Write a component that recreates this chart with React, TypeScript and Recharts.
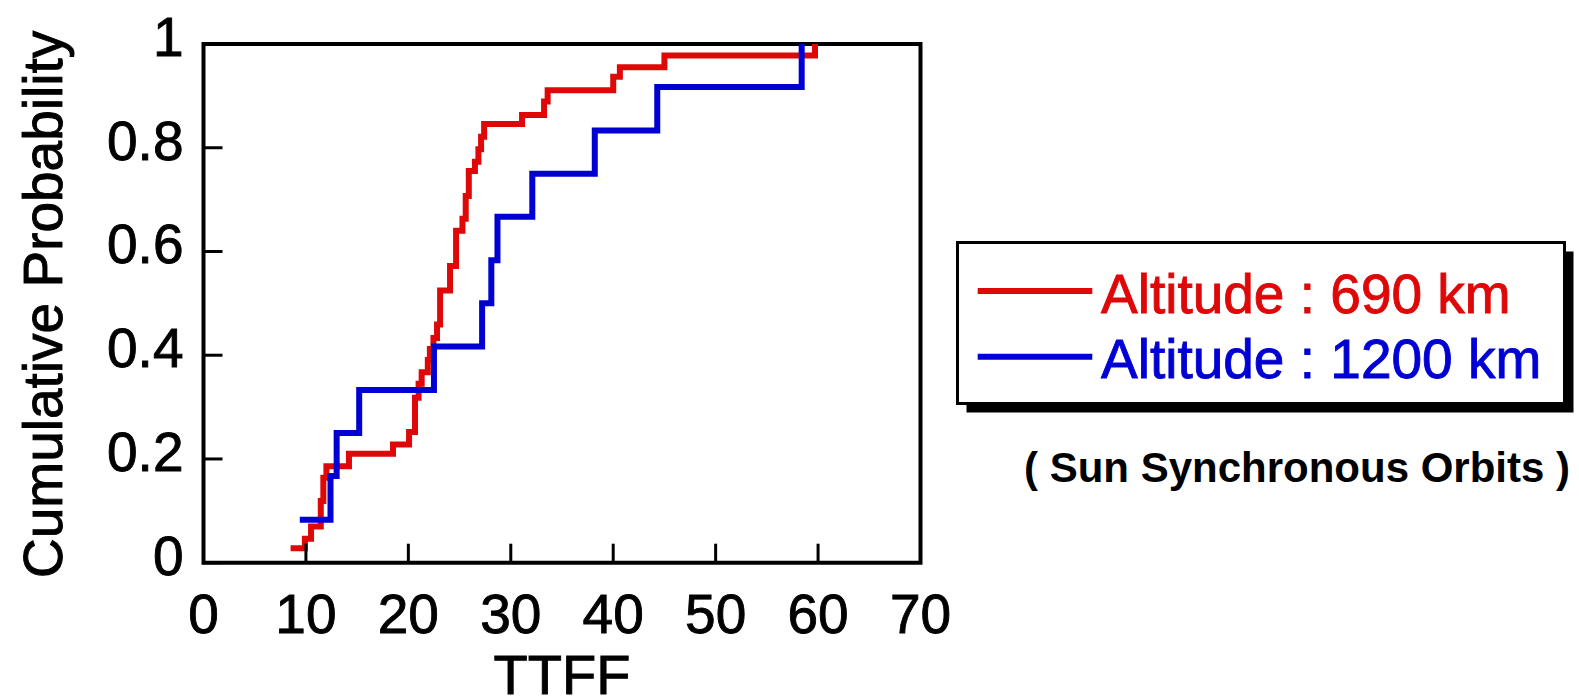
import React from 'react';
import { LineChart, Line, XAxis, YAxis, ReferenceArea, Legend, Label } from 'recharts';

const redX = [8.5, 9.9, 10.5, 11.45, 11.7, 12.0, 14.2, 18.5, 20.07, 20.65, 21.0, 21.3, 21.9, 22.1, 22.45, 22.8, 23.1, 24.07, 24.66, 25.28, 25.6, 25.9, 26.5, 26.84, 27.1, 27.4, 31.1, 33.25, 33.6, 40.0, 40.65, 45.0, 59.7];
const redY = [0.028, 0.046, 0.07, 0.119, 0.164, 0.186, 0.21, 0.228, 0.252, 0.318, 0.345, 0.367, 0.391, 0.412, 0.433, 0.459, 0.525, 0.572, 0.64, 0.663, 0.707, 0.755, 0.773, 0.797, 0.821, 0.846, 0.863, 0.889, 0.911, 0.937, 0.955, 0.978, 1.0];
const blueX = [9.4, 12.4, 13.0, 15.2, 22.5, 27.2, 28.1, 28.7, 32.1, 38.2, 44.3, 58.4];
const blueY = [0.083, 0.167, 0.25, 0.333, 0.417, 0.5, 0.583, 0.667, 0.75, 0.833, 0.917, 1.0];

const xTicks = [0, 10, 20, 30, 40, 50, 60, 70];
const yTicks = [0, 0.2, 0.4, 0.6, 0.8, 1];
const seriesNames = ['Altitude : 690 km', 'Altitude : 1200 km'];
const xTitle = 'TTFF';
const yTitle = 'Cumulative Probability';
const subtitle = '( Sun Synchronous Orbits )';

const RED = '#de0808';
const BLUE = '#0000d4';
const FONT = '"Liberation Sans", Arial, sans-serif';
const TXT_STROKE = 0.9;

const redData = redX.map((x, i) => ({ x, y: redY[i] }));
const blueData = blueX.map((x, i) => ({ x, y: blueY[i] }));

const TICK_LEN = 19;

const BottomTick = (props: any) => {
  const { x, y, payload } = props;
  return (
    <g>
      <line x1={x} x2={x} y1={y} y2={y - TICK_LEN} stroke="#000" strokeWidth={3} />
      <text x={x} y={y + 70} textAnchor="middle" fontSize={55} fontFamily={FONT} fill="#000" stroke="#000" strokeWidth={TXT_STROKE}>
        {payload.value}
      </text>
    </g>
  );
};

const TopTick = (props: any) => {
  const { x, y } = props;
  return <line x1={x} x2={x} y1={y} y2={y + TICK_LEN} stroke="#000" strokeWidth={3} />;
};

const LeftTick = (props: any) => {
  const { x, y, payload } = props;
  return (
    <g>
      <line x1={x} x2={x + TICK_LEN} y1={y} y2={y} stroke="#000" strokeWidth={3} />
      <text x={x - 20} y={y + 12} textAnchor="end" fontSize={55} fontFamily={FONT} fill="#000" stroke="#000" strokeWidth={TXT_STROKE}>
        {String(payload.value)}
      </text>
    </g>
  );
};

const RightTick = (props: any) => {
  const { x, y } = props;
  return <line x1={x} x2={x - TICK_LEN} y1={y} y2={y} stroke="#000" strokeWidth={3} />;
};

const LegendContent = (props: any) => {
  const payload = props.payload || [];
  const items = seriesNames.map((n) => payload.find((p: any) => p.value === n)).filter(Boolean);
  // svg origin at page (950, 235)
  const bx = 7.5;
  const by = 7.5;
  const bw = 607;
  const bh = 161;
  return (
    <svg width={629} height={265} style={{ display: 'block', overflow: 'visible' }}>
      <rect x={bx + 9} y={by + 9} width={bw} height={bh} fill="#000" />
      <rect x={bx} y={by} width={bw} height={bh} fill="#fff" stroke="#000" strokeWidth={3} />
      {items.map((p: any, i: number) => {
        const ly = i === 0 ? 56 : 121.7;
        const ty = i === 0 ? 77.7 : 143;
        return (
          <g key={i}>
            <line x1={27.7} x2={142.3} y1={ly} y2={ly} stroke={p.color} strokeWidth={6} />
            <text x={151} y={ty} fontSize={55} fontFamily={FONT} fill={p.color} stroke={p.color} strokeWidth={TXT_STROKE}>
              {p.value}
            </text>
          </g>
        );
      })}
      <text x={74} y={247} fontSize={42} fontWeight="bold" fontFamily={FONT} fill="#000">
        {subtitle}
      </text>
    </svg>
  );
};

const XTitle = (props: any) => {
  const vb = props.viewBox || {};
  return (
    <text x={vb.x + vb.width / 2} y={vb.y + 131} textAnchor="middle" fontSize={56} fontFamily={FONT} fill="#000" stroke="#000" strokeWidth={TXT_STROKE}>
      {xTitle}
    </text>
  );
};

const YTitle = (props: any) => {
  const vb = props.viewBox || {};
  const cx = vb.x + vb.width - 141.5;
  const cy = vb.y + vb.height / 2 + 1;
  return (
    <text x={cx} y={cy} transform={`rotate(-90, ${cx}, ${cy})`} textAnchor="middle" fontSize={55} fontFamily={FONT} fill="#000" stroke="#000" strokeWidth={TXT_STROKE}>
      {yTitle}
    </text>
  );
};

export default function App() {
  return (
    <div style={{ position: 'absolute', left: 0, top: 0, width: 1579, height: 698, background: '#fff' }}>
      <LineChart
        width={1579}
        height={698}
        margin={{ top: 43, right: 657.5, bottom: 134.3, left: 202.5 }}
      >
        <XAxis
          dataKey="x"
          type="number"
          domain={[0, 70]}
          ticks={xTicks}
          interval={0}
          height={1}
          tickSize={0}
          tickMargin={0}
          axisLine={false}
          tickLine={false}
          tick={<BottomTick />}
        >
          <Label content={<XTitle />} />
        </XAxis>
        <XAxis
          xAxisId="top"
          orientation="top"
          dataKey="x"
          type="number"
          domain={[0, 70]}
          ticks={xTicks}
          interval={0}
          height={1}
          tickSize={0}
          tickMargin={0}
          axisLine={false}
          tickLine={false}
          tick={<TopTick />}
        />
        <YAxis
          type="number"
          domain={[0, 1]}
          ticks={yTicks}
          interval={0}
          width={1}
          tickSize={0}
          tickMargin={0}
          axisLine={false}
          tickLine={false}
          tick={<LeftTick />}
        >
          <Label content={<YTitle />} />
        </YAxis>
        <YAxis
          yAxisId="right"
          orientation="right"
          type="number"
          domain={[0, 1]}
          ticks={yTicks}
          interval={0}
          width={1}
          tickSize={0}
          tickMargin={0}
          axisLine={false}
          tickLine={false}
          tick={<RightTick />}
        />
        <ReferenceArea x1={0} x2={70} y1={0} y2={1} fill="none" stroke="#000" strokeWidth={4} fillOpacity={0} />
        <Line
          data={redData}
          dataKey="y"
          name={seriesNames[0]}
          type="stepAfter"
          stroke={RED}
          strokeWidth={6}
          dot={false}
          activeDot={false}
          isAnimationActive={false}
        />
        <Line
          data={blueData}
          dataKey="y"
          name={seriesNames[1]}
          type="stepAfter"
          stroke={BLUE}
          strokeWidth={6}
          dot={false}
          activeDot={false}
          isAnimationActive={false}
        />
        <Legend
          layout="horizontal"
          verticalAlign="middle"
          align="center"
          content={<LegendContent />}
          wrapperStyle={{ position: 'absolute', left: 950, top: 235, width: 629, height: 265 }}
        />
      </LineChart>
    </div>
  );
}
